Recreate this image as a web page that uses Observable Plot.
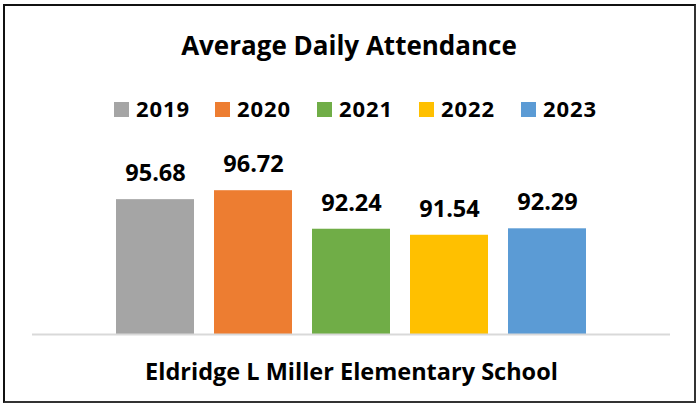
<!DOCTYPE html>
<html>
<head>
<meta charset="utf-8">
<script src="https://cdn.jsdelivr.net/npm/d3@7"></script>
<script src="https://cdn.jsdelivr.net/npm/@observablehq/plot@0.6"></script>
<style>
  html, body { margin: 0; padding: 0; background: #fff; }
  #wrap { position: relative; width: 698px; height: 405px; overflow: hidden; font-family: "Open Sans", Lato, sans-serif; font-weight: 700; color: #000; }
  #frame { position: absolute; left: 3px; top: 4px; width: 693px; height: 399px; box-sizing: border-box;
           border-top: 2px solid #111; border-left: 2px solid #111; border-bottom: 2px solid #333; border-right: 2px solid #333; pointer-events: none; }
  #title { position: absolute; left: 0; width: 698px; top: 32px; text-align: center; font-size: 26px; line-height: 26px; white-space: nowrap; }
  .sw { position: absolute; top: 102px; width: 15px; height: 15px; }
  .lt { position: absolute; top: 97px; font-size: 22px; line-height: 22px; letter-spacing: 0.9px; white-space: nowrap; }
  #chart { position: absolute; left: 0; top: 130px; }
</style>
</head>
<body>
<div id="wrap">
  <div id="title"></div>
  <div id="legend"></div>
  <div id="chart"></div>
  <div id="frame"></div>
</div>
<script>
const title = "Average Daily Attendance";
const school = "Eldridge L Miller Elementary School";
const years = ["2019", "2020", "2021", "2022", "2023"];
const values = [95.68, 96.72, 92.24, 91.54, 92.29];
const colors = ["#A5A5A5", "#ED7D31", "#70AD47", "#FFC000", "#5B9BD5"];

document.getElementById("title").textContent = title;

const legend = document.getElementById("legend");
const legendX = [114, 215, 317, 419, 521];
years.forEach((y, i) => {
  const sw = document.createElement("div");
  sw.className = "sw";
  sw.style.left = legendX[i] + "px";
  sw.style.background = colors[i];
  const tx = document.createElement("div");
  tx.className = "lt";
  tx.style.left = (legendX[i] + 22) + "px";
  tx.textContent = y;
  legend.appendChild(sw); legend.appendChild(tx);
});

const data = years.map((y, i) => ({school, year: y, value: values[i]}));

const chart = Plot.plot({
  width: 698,
  height: 275,
  marginLeft: 32,
  marginRight: 28,
  marginTop: 32,
  marginBottom: 71,
  style: {fontFamily: "'Open Sans', Lato, sans-serif", fontWeight: 700, fontSize: "23px", color: "#000", background: "transparent", overflow: "visible"},
  x: {domain: years, paddingInner: 0.2, paddingOuter: 0.85, axis: null},
  y: {domain: [80, 100], axis: null},
  fx: {domain: [school], padding: 0, label: null},
  color: {domain: years, range: colors},
  marks: [
    Plot.barY(data, {fx: "school", x: "year", y1: 80, y2: "value", fill: "year"}),
    Plot.ruleY([80], {stroke: "#D9D9D9", strokeWidth: 2}),
    Plot.text(data, {fx: "school", x: "year", y: "value", text: d => d.value.toFixed(2), dy: -26, fontSize: 23.5, fontWeight: 700, fill: "#000"}),
    Plot.axisFx({anchor: "bottom", tickSize: 0, tickPadding: 29, fontSize: 23.5, label: null})
  ]
});
document.getElementById("chart").appendChild(chart);
</script>
</body>
</html>
